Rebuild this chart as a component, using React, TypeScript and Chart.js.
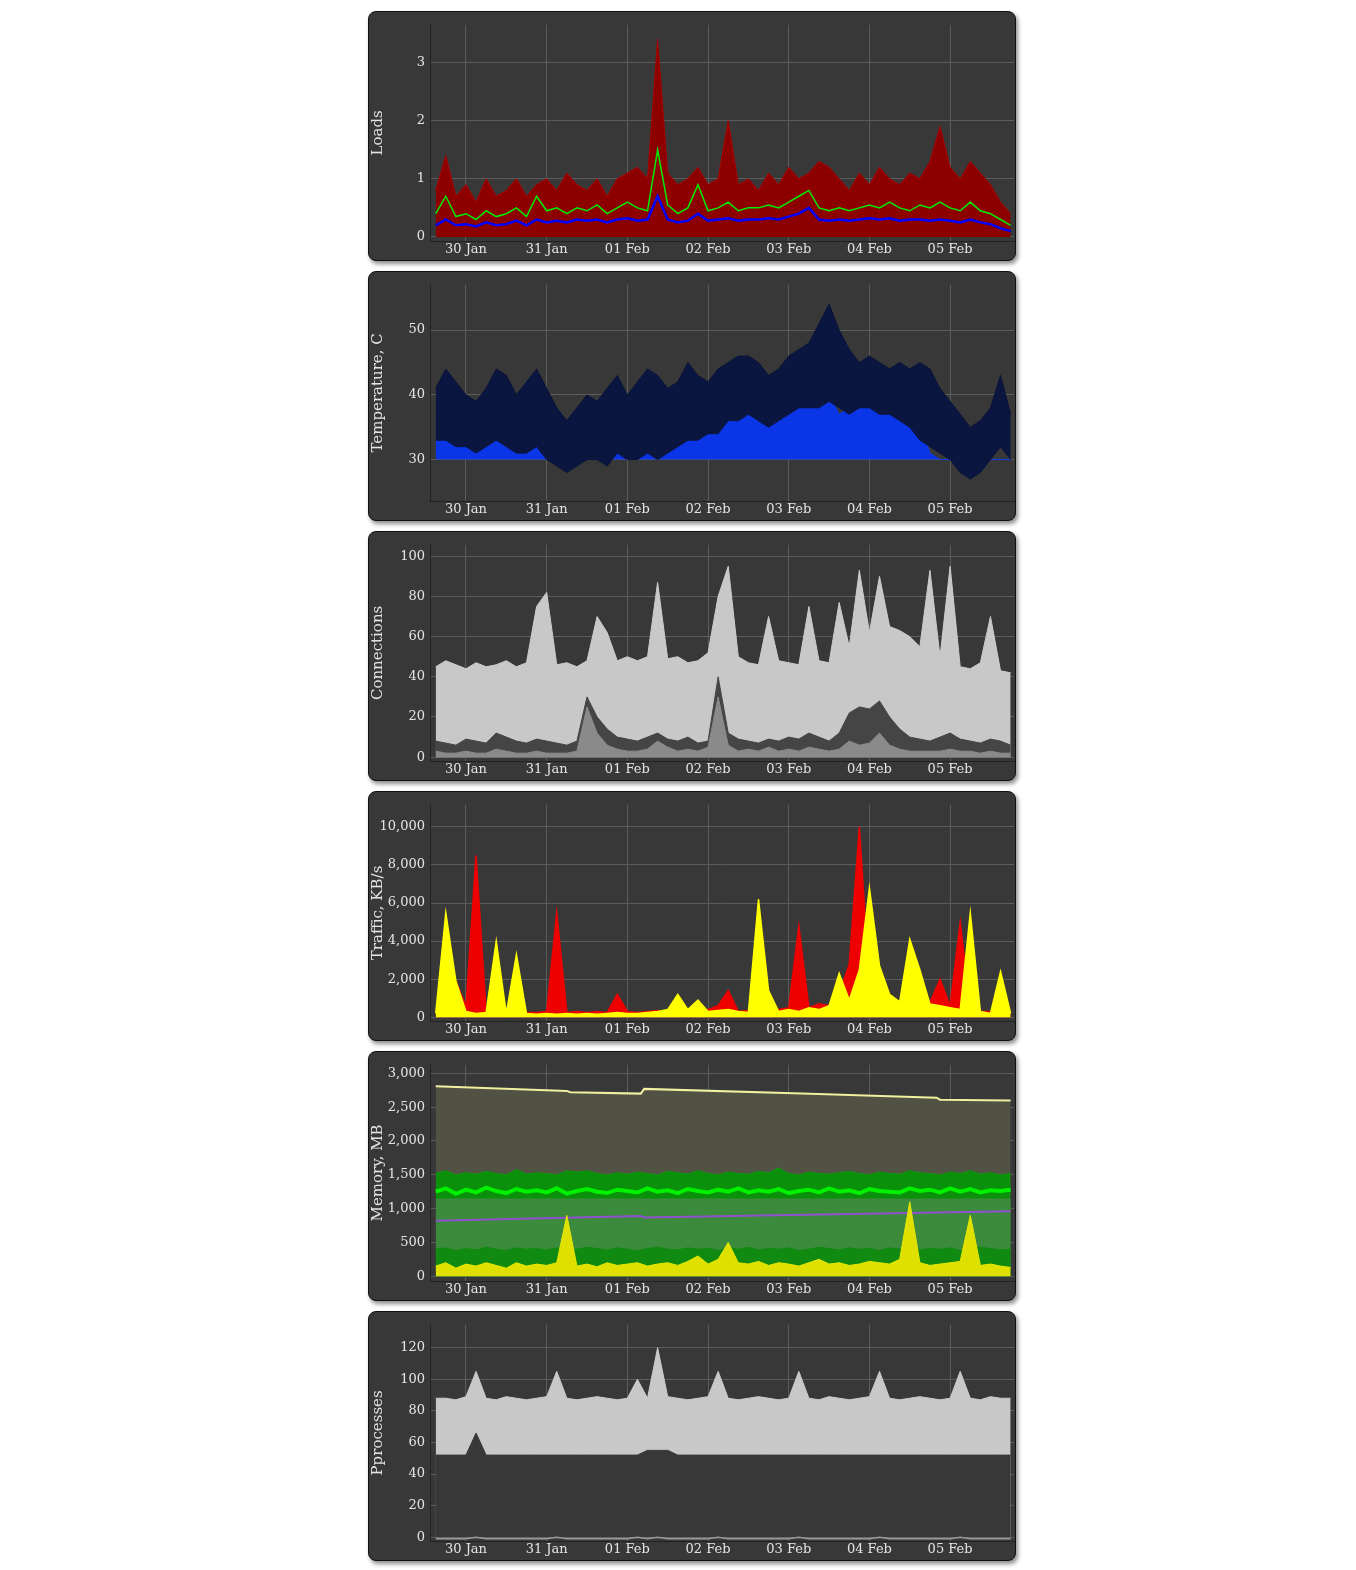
import { useEffect, useRef } from 'react';
import Chart from 'chart.js/auto';

// hours since 30 Jan 00:00, one sample every 3h
const T = [-9, -6, -3, 0, 3, 6, 9, 12, 15, 18, 21, 24, 27, 30, 33, 36, 39, 42, 45, 48, 51, 54, 57, 60, 63, 66, 69, 72, 75, 78, 81, 84, 87, 90, 93, 96, 99, 102, 105, 108, 111, 114, 117, 120, 123, 126, 129, 132, 135, 138, 141, 144, 147, 150, 153, 156, 159, 162];
const DAY_TICKS = [0, 24, 48, 72, 96, 120, 144];
const DAY_LABELS = ['30 Jan', '31 Jan', '01 Feb', '02 Feb', '03 Feb', '04 Feb', '05 Feb'];

const loadRed = [0.8, 1.4, 0.7, 0.9, 0.6, 1.0, 0.7, 0.8, 1.0, 0.7, 0.9, 1.0, 0.8, 1.1, 0.9, 0.8, 1.0, 0.7, 1.0, 1.1, 1.2, 1.0, 3.4, 1.1, 0.9, 1.0, 1.2, 0.9, 1.0, 2.0, 0.9, 1.0, 0.8, 1.1, 0.9, 1.2, 1.0, 1.1, 1.3, 1.2, 1.0, 0.8, 1.1, 0.9, 1.2, 1.0, 0.9, 1.1, 1.0, 1.3, 1.9, 1.2, 1.0, 1.3, 1.1, 0.9, 0.6, 0.4];
const loadGreen = [0.4, 0.7, 0.35, 0.4, 0.3, 0.45, 0.35, 0.4, 0.5, 0.35, 0.7, 0.45, 0.5, 0.4, 0.5, 0.45, 0.55, 0.4, 0.5, 0.6, 0.5, 0.45, 1.5, 0.55, 0.4, 0.5, 0.9, 0.45, 0.5, 0.6, 0.45, 0.5, 0.5, 0.55, 0.5, 0.6, 0.7, 0.8, 0.5, 0.45, 0.5, 0.45, 0.5, 0.55, 0.5, 0.6, 0.5, 0.45, 0.55, 0.5, 0.6, 0.5, 0.45, 0.6, 0.45, 0.4, 0.3, 0.2];
const loadBlue = [0.2, 0.3, 0.2, 0.22, 0.18, 0.25, 0.2, 0.22, 0.28, 0.2, 0.3, 0.25, 0.28, 0.25, 0.3, 0.28, 0.3, 0.25, 0.3, 0.32, 0.28, 0.3, 0.7, 0.3, 0.25, 0.28, 0.4, 0.28, 0.3, 0.32, 0.28, 0.3, 0.3, 0.32, 0.3, 0.35, 0.4, 0.5, 0.3, 0.28, 0.3, 0.28, 0.3, 0.32, 0.3, 0.32, 0.28, 0.3, 0.3, 0.28, 0.3, 0.28, 0.25, 0.3, 0.25, 0.22, 0.15, 0.1];

const tempHigh = [41, 44, 42, 40, 39, 41, 44, 43, 40, 42, 44, 41, 38, 36, 38, 40, 39, 41, 43, 40, 42, 44, 43, 41, 42, 45, 43, 42, 44, 45, 46, 46, 45, 43, 44, 46, 47, 48, 51, 54, 50, 47, 45, 46, 45, 44, 45, 44, 45, 44, 41, 39, 37, 35, 36, 38, 43, 37];
const tempLow = [33, 33, 32, 32, 31, 32, 33, 32, 31, 31, 32, 30, 29, 28, 29, 30, 30, 29, 31, 30, 30, 31, 30, 31, 32, 33, 33, 34, 34, 36, 36, 37, 36, 35, 36, 37, 38, 38, 38, 39, 38, 37, 38, 38, 37, 37, 36, 35, 33, 32, 31, 30, 28, 27, 28, 30, 32, 30];
const tempBlue = [36, 35, 35, 33, 34, 33, 37, 36, 34, 35, 36, 34, 32, 31, 31, 34, 33, 33, 35, 33, 33, 35, 36, 34, 37, 35, 36, 35, 36, 36, 38, 37, 40, 38, 37, 37, 38, 40, 39, 40, 37, 38, 38, 39, 40, 39, 38, 37, 36, 31, 30, 30, 30, 30, 30, 30, 30, 30];
const tempBase = T.map(() => 30);

const connLight = [45, 48, 46, 44, 47, 45, 46, 48, 45, 47, 75, 82, 46, 47, 45, 48, 70, 62, 48, 50, 48, 50, 87, 49, 50, 47, 48, 52, 80, 95, 50, 47, 46, 70, 48, 47, 46, 75, 48, 47, 77, 55, 93, 62, 90, 65, 63, 60, 55, 93, 50, 95, 45, 44, 47, 70, 43, 42];
const connDark = [8, 7, 6, 9, 8, 7, 12, 10, 8, 7, 9, 8, 7, 6, 8, 30, 20, 14, 10, 9, 8, 10, 12, 9, 8, 10, 7, 8, 40, 12, 9, 8, 7, 9, 8, 10, 9, 12, 10, 8, 12, 22, 25, 24, 28, 20, 14, 10, 9, 8, 10, 12, 9, 8, 7, 9, 8, 6];
const connLow = [3, 2, 2, 3, 2, 2, 4, 3, 2, 2, 3, 2, 2, 2, 3, 25, 12, 6, 4, 3, 3, 4, 8, 5, 3, 4, 3, 5, 30, 6, 3, 4, 3, 5, 3, 4, 3, 5, 4, 3, 4, 8, 6, 7, 12, 6, 4, 3, 3, 3, 3, 4, 3, 3, 2, 3, 2, 2];

const trafYellow = [200, 5500, 1900, 300, 200, 250, 4000, 200, 3300, 200, 150, 200, 150, 200, 150, 200, 150, 200, 250, 200, 200, 250, 300, 400, 1200, 400, 900, 300, 350, 400, 300, 250, 6200, 1400, 300, 400, 300, 500, 400, 600, 2300, 900, 2500, 6800, 2700, 1200, 800, 4100, 2500, 700, 600, 500, 400, 5500, 300, 200, 2400, 200];
const trafRed = [300, 400, 1900, 600, 8500, 300, 300, 250, 300, 250, 250, 300, 5500, 250, 300, 250, 300, 250, 1200, 300, 250, 300, 350, 300, 400, 300, 350, 400, 600, 1400, 300, 350, 400, 300, 400, 500, 4800, 500, 700, 600, 1200, 2800, 10000, 1800, 1500, 900, 700, 600, 500, 800, 2000, 600, 5000, 400, 300, 300, 250, 200];

const memTotalX = [-9, 30, 31, 52, 53, 100, 140, 141, 162];
const memTotal = [2810, 2740, 2720, 2700, 2770, 2700, 2640, 2610, 2600];
const memBand = [1520, 1560, 1500, 1530, 1510, 1550, 1520, 1500, 1580, 1510, 1530, 1520, 1500, 1560, 1540, 1560, 1520, 1500, 1530, 1510, 1540, 1520, 1500, 1550, 1530, 1510, 1560, 1520, 1500, 1540, 1520, 1510, 1550, 1530, 1600, 1520, 1500, 1540, 1520, 1510, 1530, 1550, 1520, 1500, 1540, 1520, 1510, 1560, 1530, 1520, 1500, 1540, 1520, 1560, 1510, 1530, 1500, 1520];
const memBright = [1250, 1300, 1220, 1280, 1240, 1310, 1260, 1230, 1290, 1250, 1270, 1240, 1300, 1220, 1260, 1290, 1250, 1230, 1280, 1260, 1240, 1300, 1250, 1270, 1230, 1290, 1260, 1240, 1280, 1250, 1300, 1240, 1270, 1250, 1290, 1230, 1260, 1280, 1240, 1300, 1250, 1270, 1230, 1290, 1260, 1250, 1240, 1300, 1260, 1280, 1240, 1300, 1250, 1290, 1240, 1270, 1260, 1280];
const memMidX = [-9, 162];
const memMid = [1150, 1150];
const memPurpleX = [-9, 52, 53, 162];
const memPurple = [820, 890, 870, 960];
const memLowBand = [400, 420, 380, 410, 390, 430, 400, 380, 420, 400, 410, 390, 420, 380, 400, 430, 410, 390, 420, 400, 380, 410, 430, 400, 390, 420, 400, 410, 380, 420, 400, 430, 390, 410, 400, 420, 380, 400, 430, 410, 390, 420, 400, 410, 380, 420, 400, 430, 390, 410, 400, 420, 380, 400, 430, 410, 390, 400];
const memYellow = [150, 200, 120, 180, 150, 200, 160, 120, 200, 150, 180, 160, 200, 900, 150, 180, 140, 200, 160, 180, 200, 150, 180, 200, 160, 220, 300, 180, 250, 500, 200, 180, 220, 160, 200, 180, 150, 200, 250, 180, 200, 160, 180, 220, 200, 180, 250, 1100, 200, 160, 180, 200, 220, 900, 160, 180, 150, 130];

const procTop = [88, 88, 87, 89, 105, 88, 87, 89, 88, 87, 88, 89, 105, 88, 87, 88, 89, 88, 87, 88, 100, 88, 120, 89, 88, 87, 88, 89, 105, 88, 87, 88, 89, 88, 87, 88, 105, 88, 87, 89, 88, 87, 88, 89, 105, 88, 87, 88, 89, 88, 87, 88, 105, 88, 87, 89, 88, 88];
const procMid = [52, 52, 52, 52, 66, 52, 52, 52, 52, 52, 52, 52, 52, 52, 52, 52, 52, 52, 52, 52, 52, 55, 55, 55, 52, 52, 52, 52, 52, 52, 52, 52, 52, 52, 52, 52, 52, 52, 52, 52, 52, 52, 52, 52, 52, 52, 52, 52, 52, 52, 52, 52, 52, 52, 52, 52, 52, 52];
const procLow = [-1, -1, -1, -1, 0, -1, -1, -1, -1, -1, -1, -1, 0, -1, -1, -1, -1, -1, -1, -1, 0, -1, 0, -1, -1, -1, -1, -1, 0, -1, -1, -1, -1, -1, -1, -1, 0, -1, -1, -1, -1, -1, -1, -1, 0, -1, -1, -1, -1, -1, -1, -1, 0, -1, -1, -1, -1, -1];

const pts = (vals: number[], xs: number[] = T) => xs.map((x, i) => ({ x, y: vals[i] }));

const FONT = 'DejaVu Serif';
const TXT = '#e4e4e4';
const GRID = '#5c5c5c';

function line(data: any[], color: string, fill: any = false, bg = color, width = 1, order = 0) {
  return { data, borderColor: color, backgroundColor: bg, fill, borderWidth: width, pointRadius: 0, tension: 0, order };
}

interface PanelProps {
  title: string;
  min: number;
  max: number;
  ticks: number[];
  datasets: any[];
}

function Panel({ title, min, max, ticks, datasets }: PanelProps) {
  const canvasRef = useRef<HTMLCanvasElement>(null);
  useEffect(() => {
    if (!canvasRef.current) return;
    const chart = new Chart(canvasRef.current, {
      type: 'line',
      data: { datasets },
      options: {
        animation: false,
        responsive: false,
        layout: { padding: { top: 3, right: 1, left: 0, bottom: 0 } },
        plugins: { legend: { display: false }, tooltip: { enabled: false } },
        scales: {
          x: {
            type: 'linear', min: -10.7, max: 163,
            afterBuildTicks: (s: any) => { s.ticks = DAY_TICKS.map(v => ({ value: v })); },
            afterFit: (s: any) => { s.height = 19; },
            ticks: { color: TXT, font: { family: FONT, size: 13 }, padding: 1, maxRotation: 0,
              callback: (v: any) => DAY_LABELS[DAY_TICKS.indexOf(v)] ?? '' },
            grid: { color: GRID, drawTicks: false },
            border: { color: '#222' },
          },
          y: {
            min, max,
            afterBuildTicks: (s: any) => { s.ticks = ticks.map(v => ({ value: v })); },
            afterFit: (s: any) => { s.width = 61; },
            ticks: { color: TXT, font: { family: FONT, size: 13 }, padding: 5 },
            grid: { color: GRID, drawTicks: false },
            border: { color: '#222' },
            title: { display: true, text: title, color: TXT, font: { family: FONT, size: 15 }, padding: 0 },
          },
        },
      },
    });
    return () => chart.destroy();
  }, []);
  return (
    <div style={{ width: 646, height: 248, background: '#383838', border: '1px solid #111', borderRadius: 8,
      boxShadow: '2px 3px 4px rgba(0,0,0,0.45)', marginBottom: 10, overflow: 'hidden' }}>
      <canvas ref={canvasRef} width={646} height={248} style={{ display: 'block' }} />
    </div>
  );
}

export default function App() {
  return (
    <div style={{ marginLeft: 360, marginTop: 3 }}>
      <Panel title="Loads" min={-0.07} max={3.65} ticks={[0, 1, 2, 3]} datasets={[
        line(pts(loadBlue), '#0000ff', false, '#0000ff', 2.5, 0),
        line(pts(loadGreen), '#00ee00', false, '#00ee00', 1.5, 1),
        line(pts(loadRed), '#aa0000', 'origin', '#8c0000', 1, 2),
      ]} />
      <Panel title="Temperature, C" min={23.6} max={57} ticks={[30, 40, 50]} datasets={[
        line(pts(tempHigh), '#0a1238', '+1', '#0b1640', 1, 0),
        line(pts(tempLow), '#0a1238', false, '#0a1238', 1, 1),
        line(pts(tempBlue), '#0a3af0', '+1', '#0a36e8', 1, 2),
        line(pts(tempBase), 'rgba(0,0,0,0)', false, 'rgba(0,0,0,0)', 0, 3),
      ]} />
      <Panel title="Connections" min={-1.9} max={105.7} ticks={[0, 20, 40, 60, 80, 100]} datasets={[
        line(pts(connLow), '#8a8a8a', 'origin', '#8a8a8a', 1, 0),
        line(pts(connDark), '#454545', 'origin', '#454545', 1, 1),
        line(pts(connLight), '#cccccc', 'origin', '#c8c8c8', 1, 2),
      ]} />
      <Panel title="Traffic, KB/s" min={-200} max={11160} ticks={[0, 2000, 4000, 6000, 8000, 10000]} datasets={[
        line(pts(trafYellow), '#ffff00', 'origin', '#ffff00', 1.5, 0),
        line(pts(trafRed), '#ee0000', 'origin', '#ee0000', 1.5, 1),
      ]} />
      <Panel title="Memory, MB" min={-70} max={3126} ticks={[0, 500, 1000, 1500, 2000, 2500, 3000]} datasets={[
        line(pts(memYellow), '#e8e800', 'origin', '#e0e000', 1, 0),
        line(pts(memLowBand), '#108a10', 'origin', '#108a10', 1, 1),
        line(pts(memPurple, memPurpleX), '#9050d0', false, '#9050d0', 2, 2),
        line(pts(memMid, memMidX), '#3c8c3c', 'origin', '#3c8a3c', 0, 3),
        line(pts(memBright), '#00f000', false, '#00f000', 4, 4),
        line(pts(memBand), '#0a9a0a', 'origin', '#0a900a', 1, 5),
        line(pts(memTotal, memTotalX), '#f0f0a0', 'origin', '#525244', 2, 6),
      ]} />
      <Panel title="Pprocesses" min={-2.4} max={134.5} ticks={[0, 20, 40, 60, 80, 100, 120]} datasets={[
        line(pts(procLow), '#9a9a9a', false, '#9a9a9a', 1.5, 0),
        line(pts(procMid), '#3a3a3a', 'origin', '#383838', 1, 1),
        line(pts(procTop), '#cccccc', 'origin', '#c8c8c8', 1, 2),
      ]} />
    </div>
  );
}
